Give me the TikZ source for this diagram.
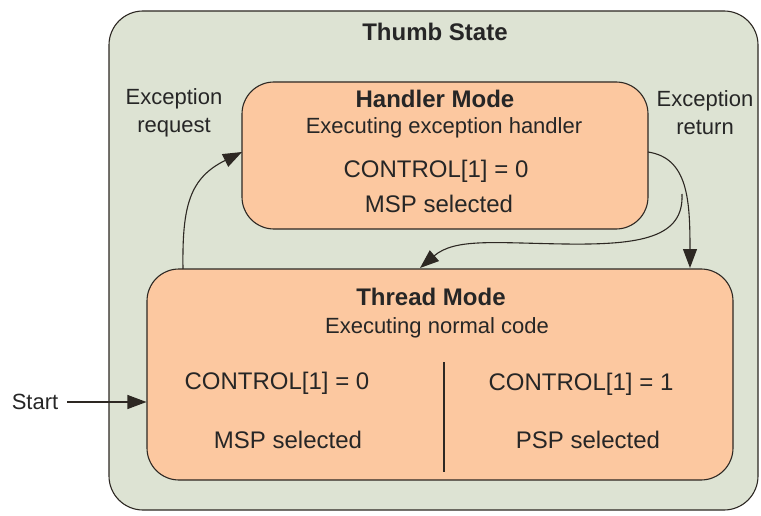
\documentclass[tikz,border=0pt]{standalone}
\usepackage{fontspec}
\setmainfont{Liberation Sans}
\usetikzlibrary{arrows.meta,calc}
\definecolor{statebg}{RGB}{221,227,211}
\definecolor{modefill}{RGB}{252,200,160}
\definecolor{edge}{RGB}{45,40,35}
\tikzset{
  frame/.style={draw=edge, line width=1.1pt, rounded corners=34pt, fill=statebg},
  modebox/.style={draw=edge, line width=1.1pt, rounded corners=32pt, fill=modefill},
  arr/.style={draw=edge, line width=1.1pt, -{Triangle[length=19pt,width=14pt]}},
  lbl/.style={font=\fontsize{22}{26}\selectfont, text=black!85, align=center, inner sep=0pt},
  big/.style={font=\fontsize{24}{28}\selectfont, text=black!85, inner sep=0pt},
  head/.style={font=\fontsize{24}{28}\selectfont\bfseries, text=black!85, inner sep=0pt},
}
\begin{document}
\begin{tikzpicture}[x=1pt,y=-1pt]
\useasboundingbox (0,0) rectangle (761,516);
% outer state and the two modes
\node[frame, minimum width=649pt, minimum height=499pt] (thumb) at (433.5,260.5) {};
\node[modebox, minimum width=406pt, minimum height=147pt] (handler) at (445,155.5) {};
\node[modebox, minimum width=586pt, minimum height=211pt] (thread) at (440,374.5) {};

% texts
\node[head] (thumbt) at (435,32) {Thumb State};
\node[head] (handt) at (435,99) {Handler Mode};
\node[lbl] (hsub) at (444,128) {Executing exception handler};
\node[big] (hctl) at (436,171) {CONTROL[1] = 0};
\node[big] (hsp) at (439,204) {MSP selected};
\node[head] (thrt) at (431,297) {Thread Mode};
\node[lbl] (tsub) at (437,328) {Executing normal code};
\node[big] (tctl0) at (277,383) {CONTROL[1] = 0};
\node[big] (tsp0) at (288,440) {MSP selected};
\node[big] (tctl1) at (581,384) {CONTROL[1] = 1};
\node[big] (tsp1) at (588,440) {PSP selected};
\node[lbl] (req) at (174,113) {Exception\\[2pt]request};
\node[lbl] (ret) at (705,113) {Exception\\[2pt]return};
\node[lbl] (start) at (35,402) {Start};

% divider inside thread mode
\coordinate (divtop) at (444,362);
\coordinate (divbot) at (444,472);
\draw[edge, line width=1.1pt] (divtop) -- (divbot);

% transitions
\coordinate (reqfrom) at (183,269);
\coordinate (reqto) at (242,152);
\draw[arr] (reqfrom) .. controls (182,205) and (190,178) .. (reqto);

\coordinate (retfrom) at (648,152);
\coordinate (retto) at (690,268);
\draw[arr] (retfrom) .. controls (688,158) and (690,200) .. (retto);

\coordinate (branch) at (682,194);
\coordinate (backto) at (420,268);
\draw[arr] (branch) .. controls (684,238) and (640,245) .. (565,244)
  .. controls (495,243) and (455,238) .. (backto);

\coordinate (startfrom) at (67,402);
\draw[arr] (startfrom) -- (start -| thread.west);
\end{tikzpicture}
\end{document}
